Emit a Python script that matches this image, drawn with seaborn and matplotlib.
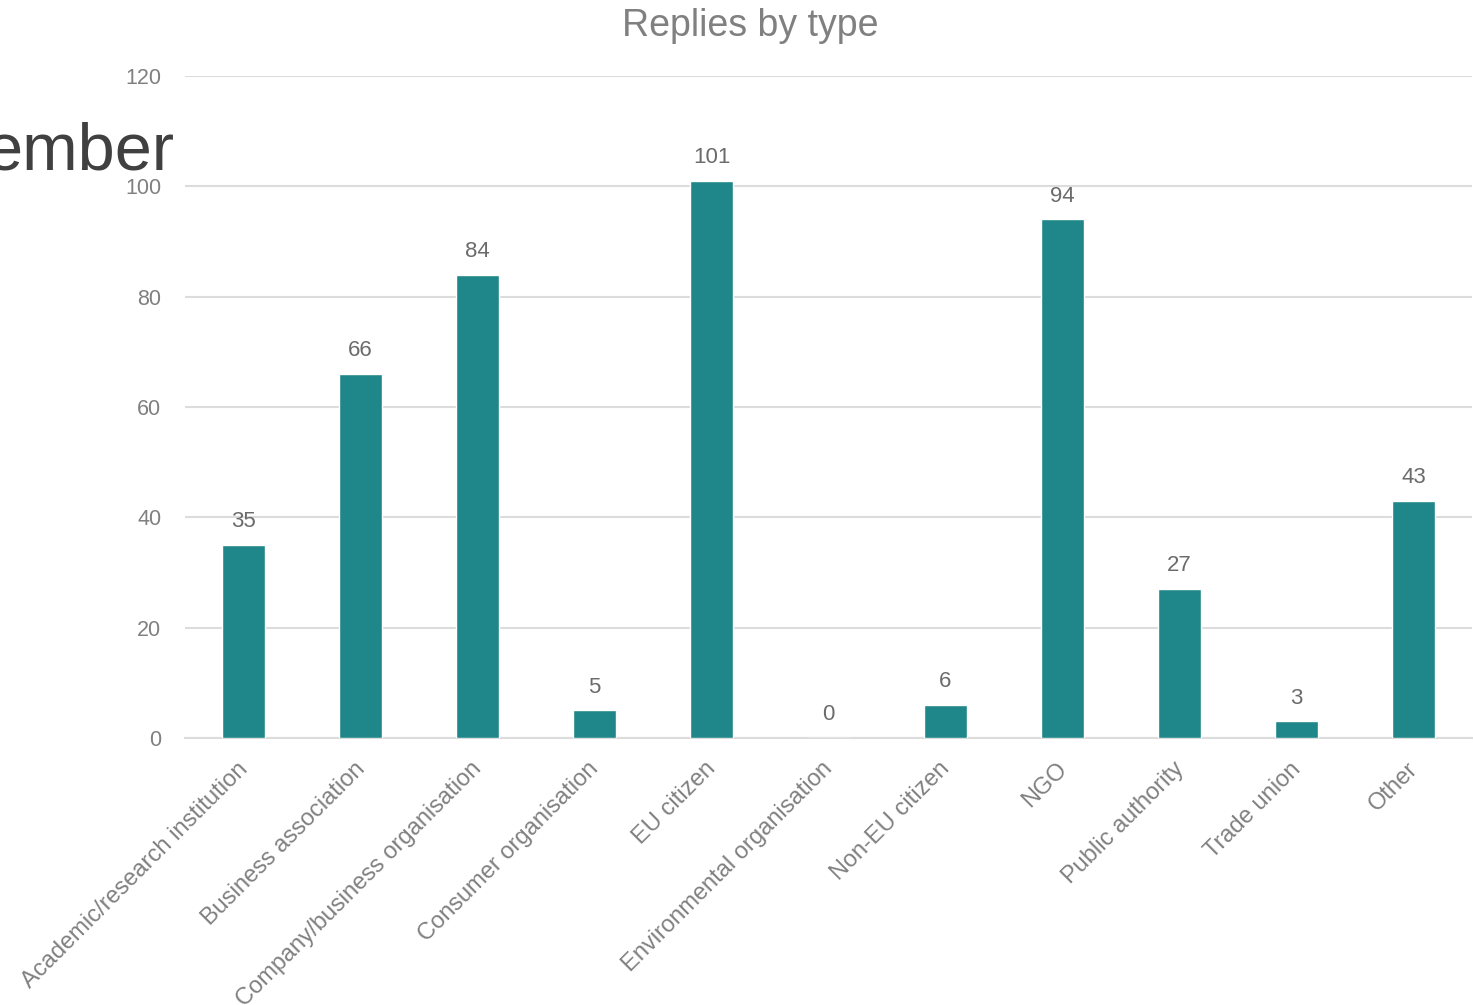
import numpy as np
import pandas as pd
import matplotlib
matplotlib.use('Agg')
import matplotlib.pyplot as plt
import matplotlib.transforms as mtransforms
import seaborn as sns

# Data
categories = ['Academic/research institution', 'Business association',
              'Company/business organisation', 'Consumer organisation',
              'EU citizen', 'Environmental organisation', 'Non-EU citizen',
              'NGO', 'Public authority', 'Trade union', 'Other']
replies = [35, 66, 84, 5, 101, 0, 6, 94, 27, 3, 43]
y_ticks = [0, 20, 40, 60, 80, 100, 120]

df = pd.DataFrame({'type': categories, 'replies': replies})

sns.set_style('white')
plt.rcParams['font.family'] = ['Liberation Sans', 'DejaVu Sans']

bar_color = '#1f8789'
grid_color = '#dcdcdc'
tick_color = '#808080'
label_color = '#6b6b6b'

fig = plt.figure(figsize=(14.73, 10.05), dpi=100)
ax = fig.add_axes([185 / 1473, 1 - 738 / 1005, (1472 - 185) / 1473, (738 - 76) / 1005])

sns.barplot(data=df, x='type', y='replies', color=bar_color, width=0.37,
            edgecolor='white', linewidth=1, saturation=1, ax=ax, zorder=3)

ax.set_ylim(0, 120)
ax.set_xlim(-0.5, len(categories) - 0.5)
ax.set_yticks(y_ticks)
ax.yaxis.grid(True, color=grid_color, linewidth=1.5, zorder=0)
ax.set_axisbelow(True)
for s in ['top', 'right', 'left']:
    ax.spines[s].set_visible(False)
ax.spines['bottom'].set_color(grid_color)
ax.spines['bottom'].set_linewidth(1.5)
ax.set_xlabel('')
ax.set_ylabel('')

# value labels
for i, v in enumerate(replies):
    ax.text(i, v + 2.3, str(v), ha='center', va='bottom', fontsize=16, color=label_color)

# y ticks
ax.tick_params(axis='y', length=0, labelsize=15.5, labelcolor=tick_color, pad=17)

# x ticks: labels at centers, small tick marks at category boundaries
ax.set_xticks(range(len(categories)))
ax.set_xticklabels(categories, rotation=45, ha='right', va='top',
                   rotation_mode='anchor', fontsize=17, color=tick_color)
ax.tick_params(axis='x', which='major', length=0, pad=10)
shift = mtransforms.ScaledTranslation(-7 / 100, -6 / 100, fig.dpi_scale_trans)
for lbl in ax.get_xticklabels():
    lbl.set_transform(lbl.get_transform() + shift)
ax.set_xticks(np.arange(-0.5, len(categories), 1), minor=True)
ax.tick_params(axis='x', which='minor', length=7, width=1.5, color=grid_color)

fig.text(750 / 1473, 1 - 36 / 1005, 'Replies by type', ha='center', va='baseline',
         fontsize=27, color=tick_color)
fig.text(174 / 1473, 1 - 170 / 1005, 'ember', ha='right', va='baseline',
         fontsize=48, color='#404040')

fig.savefig('out.png', dpi=100)
